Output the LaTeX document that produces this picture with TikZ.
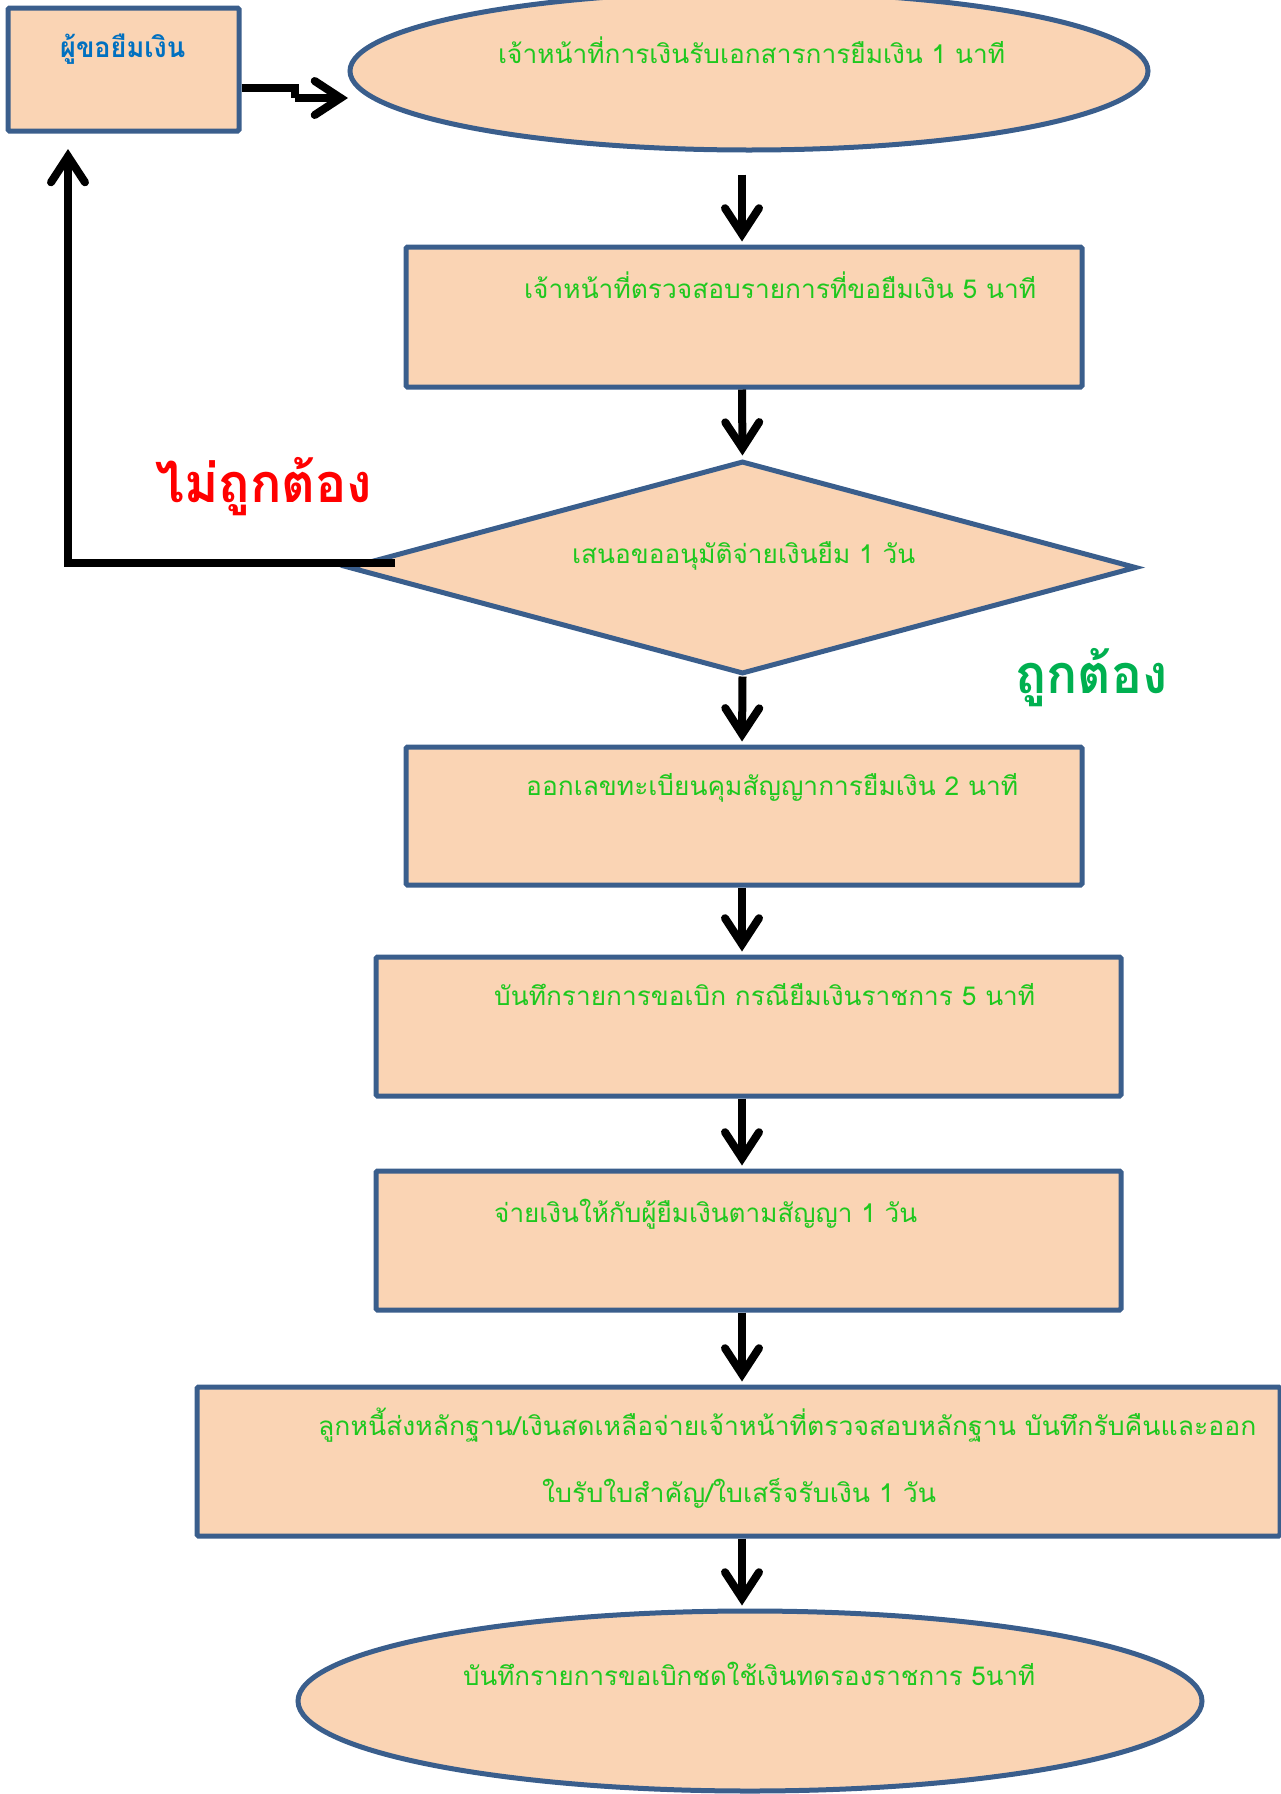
\documentclass[tikz,border=0pt]{standalone}
\usepackage{fontspec}
\usepackage{graphicx}
\usetikzlibrary{arrows.meta,shapes.geometric}
\newfontfamily\thai[Script=Thai]{Loma}
\definecolor{boxfill}{HTML}{FAD4B4}
\definecolor{boxline}{HTML}{3A5E8C}
\definecolor{txtgreen}{HTML}{1EC81E}
\definecolor{okgreen}{HTML}{00B050}
\definecolor{reqblue}{HTML}{0070C0}
\newcommand\fitw[2]{\resizebox{#1}{\height}{#2}}
\begin{document}
\begin{tikzpicture}[x=1pt,y=-1pt,
  shp/.style={draw=boxline, line width=5pt, fill=boxfill, inner sep=0pt},
  boxx/.style={shp, rectangle, rounded corners=1.5pt},
  ell/.style={shp, ellipse},
  dia/.style={shp, diamond},
  body/.style={anchor=base west, inner sep=0pt, text=txtgreen, font=\thai\fontsize{26}{30}\selectfont},
  arr/.style={line width=8pt, black, -{Straight Barb[length=26pt,width=34pt,line cap=round]}}
]
\useasboundingbox (0,0) rectangle (1281,1794);
\coordinate (axis) at (742,0);
% shapes
\node[boxx, minimum width=231, minimum height=123] (b1) at (123.5,69.5) {};
\node[ell, minimum width=798, minimum height=158] (e1) at (749,71) {};
\node[boxx, minimum width=676, minimum height=140] (b2) at (744,317) {};
\node[dia, minimum width=788, minimum height=213] (d) at (742.5,567.5) {};
\node[boxx, minimum width=676, minimum height=138] (b3) at (744,816) {};
\node[boxx, minimum width=745, minimum height=139] (b4) at (748.5,1026.5) {};
\node[boxx, minimum width=745, minimum height=139] (b5) at (748.5,1240.5) {};
\node[boxx, minimum width=1083, minimum height=149] (b6) at (738.5,1461.5) {};
\node[ell, minimum width=904, minimum height=180] (e2) at (750,1701) {};
% texts
\node[anchor=base west, inner sep=0pt, text=reqblue, font=\thai\bfseries\fontsize{28}{32}\selectfont] (t0) at (60,57) {\fitw{125pt}{ผู้ขอยืมเงิน}};
\node[body] (t1) at (498,63) {\fitw{507pt}{เจ้าหน้าที่การเงินรับเอกสารการยืมเงิน 1 นาที}};
\node[body] (t2) at (524,298) {\fitw{512pt}{เจ้าหน้าที่ตรวจสอบรายการที่ขอยืมเงิน 5 นาที}};
\node[body] (t3) at (572,563) {\fitw{343pt}{เสนอขออนุมัติจ่ายเงินยืม 1 วัน}};
\node[body] (t4) at (526,795) {\fitw{492pt}{ออกเลขทะเบียนคุมสัญญาการยืมเงิน 2 นาที}};
\node[body] (t5) at (494,1005) {\fitw{541pt}{บันทึกรายการขอเบิก กรณียืมเงินราชการ 5 นาที}};
\node[body] (t6) at (494,1222) {\fitw{423pt}{จ่ายเงินให้กับผู้ยืมเงินตามสัญญา 1 วัน}};
\node[body] (t7a) at (318,1435) {\fitw{938pt}{ลูกหนี้ส่งหลักฐาน/เงินสดเหลือจ่ายเจ้าหน้าที่ตรวจสอบหลักฐาน บันทึกรับคืนและออก}};
\node[body] (t7b) at (542,1502) {\fitw{394pt}{ใบรับใบสำคัญ/ใบเสร็จรับเงิน 1 วัน}};
\node[body] (t8) at (463,1685) {\fitw{572pt}{บันทึกรายการขอเบิกชดใช้เงินทดรองราชการ 5นาที}};
\node[anchor=base west, inner sep=0pt, text=red, font=\thai\bfseries\fontsize{54}{60}\selectfont] (no) at (155,502) {\fitw{217pt}{ไม่ถูกต้อง}};
\node[anchor=base west, inner sep=0pt, text=okgreen, font=\thai\bfseries\fontsize{54}{60}\selectfont] (yes) at (1015,693) {\fitw{152pt}{ถูกต้อง}};
% connectors
\coordinate (z1) at (295,88);
\coordinate (z2) at (348,98);
\draw[line width=8pt] (b1.east |- z1) -- (z1) -- (z1 |- z2);
\draw[arr] (295,98) -- (z2);
\draw[arr, shorten <=22pt, shorten >=3pt] (axis |- e1.south) -- (axis |- b2.north);
\draw[arr, shorten >=3pt] (axis |- b2.south) -- (d.north);
\draw[arr, shorten >=3pt] (d.south) -- (axis |- b3.north);
\draw[arr, shorten >=3pt] (axis |- b3.south) -- (axis |- b4.north);
\draw[arr, shorten >=3pt] (axis |- b4.south) -- (axis |- b5.north);
\draw[arr, shorten >=3pt] (axis |- b5.south) -- (axis |- b6.north);
\draw[arr, shorten >=3pt] (axis |- b6.south) -- (axis |- e2.north);
\coordinate (fbstart) at (395,563);
\coordinate (fbend) at (68,149);
\draw[arr] (fbstart) -| (fbend);
\end{tikzpicture}
\end{document}
